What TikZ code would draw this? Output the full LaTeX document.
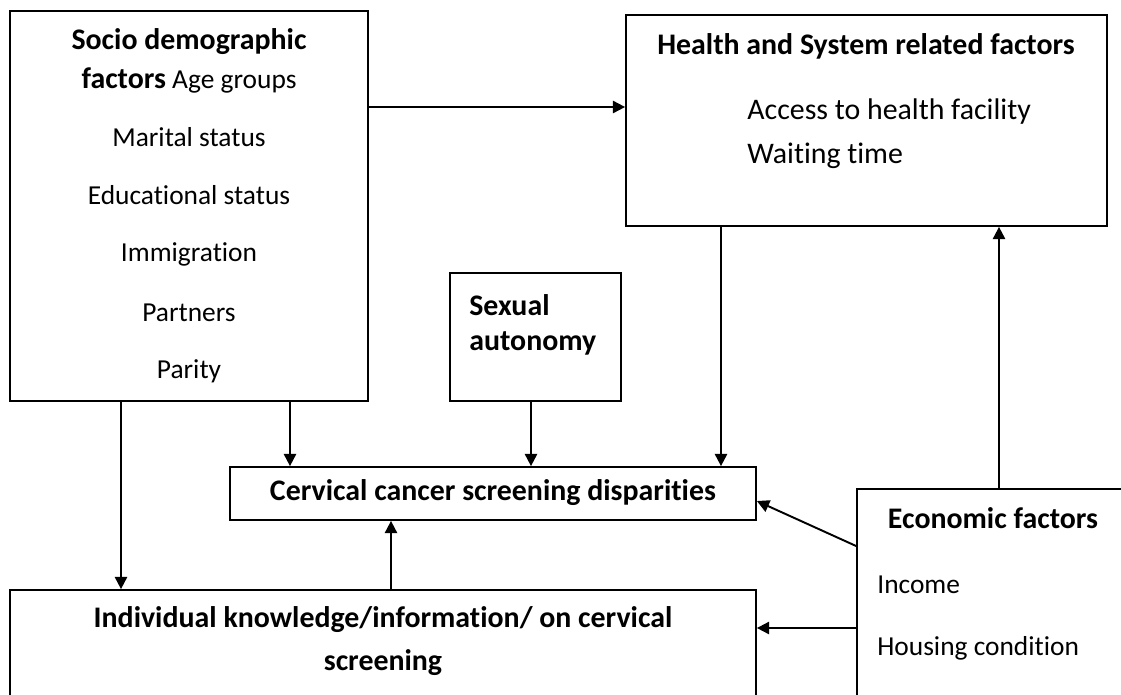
\documentclass[tikz,border=0pt]{standalone}
\usepackage{fontspec}
\setmainfont{Carlito}[Ligatures={NoCommon}]
\usetikzlibrary{arrows.meta}

\begin{document}
\begin{tikzpicture}[
    x=0.02cm,
    y=-0.02cm,
    >={Triangle[length=7pt,width=7pt]},
    box/.style={draw, rectangle, line width=1pt, inner sep=0pt},
    item/.style={font=\fontsize{15.6}{18}\selectfont, inner sep=0pt},
    head/.style={font=\fontsize{17}{20}\selectfont\bfseries, inner sep=0pt},
    arr/.style={->, line width=1.1pt}
]

% ============================================================
% Rahmen
% ============================================================

% 1 Einheit = 1 Pixel
\def\px{0.02cm}

\useasboundingbox (0,0) rectangle (1121,694);
\clip (0,0) rectangle (1121,694);

% ============================================================
% Kaesten
% ============================================================

\node[box, minimum width=358*\px, minimum height=390*\px]
    (socio) at (189,206) {};

\node[box, minimum width=481*\px, minimum height=211*\px]
    (health) at (866.5,120.5) {};

\node[box, minimum width=171*\px, minimum height=128*\px]
    (sexual) at (535.5,337) {};

\node[box, minimum width=526*\px, minimum height=53*\px]
    (cerv) at (493,493.5) {};

% unten abgeschnitten
\node[box, minimum width=746*\px, minimum height=170*\px]
    (indiv) at (383,675) {};

% rechts und unten abgeschnitten
\node[box, minimum width=323*\px, minimum height=271*\px]
    (econ) at (1018.5,624.5) {};

% ============================================================
% Texte
% ============================================================

% Soziodemographie
\node[head] (sociot) at (189,42) {Socio demographic};
\node[item] (age) at (189,80)
    {{\fontsize{17}{20}\selectfont\bfseries factors} Age groups};
\node[item] (marital) at (189,137) {Marital status};
\node[item] (edu) at (189,195) {Educational status};
\node[item] (immi) at (189,254) {Immigration};
\node[item] (partn) at (189,313) {Partners};
\node[item] (parity) at (189,371) {Parity};

% Gesundheitssystem
\node[head] (healtht) at (866,46) {Health and System related factors};
\node[item, anchor=west, font=\fontsize{17}{20}\selectfont]
    (access) at (747,112) {Access to health facility};
\node[item, anchor=west, font=\fontsize{17}{20}\selectfont]
    (waiting) at (747,156) {Waiting time};

% Sexuelle Autonomie
\node[head, anchor=west] (sext1) at (469,305) {Sexual};
\node[head, anchor=west] (sext2) at (469,343) {autonomy};

% Zielgroesse
\node[head] (cervt) at (493,493) {Cervical cancer screening disparities};

% Wissen
\node[head] (indt1) at (383,620)
    {Individual knowledge/information/ on cervical};
\node[head] (indt2) at (383,663) {screening};

% Oekonomie
\node[head] (econt) at (993,518) {Economic factors};
\node[item, anchor=west] (income) at (877,585) {Income};
\node[item, anchor=west] (housing) at (877,648) {Housing condition};

% ============================================================
% Pfeile
% ============================================================

\draw[arr] (socio.east |- 0,107) -- (health.west |- 0,107);
\draw[arr] (socio.south -| 121,0) -- (indiv.north -| 121,0);
\draw[arr] (socio.south -| 290,0) -- (cerv.north -| 290,0);
\draw[arr] (sexual.south -| 531,0) -- (cerv.north -| 531,0);
\draw[arr] (health.south -| 721,0) -- (cerv.north -| 721,0);
\draw[arr] (econ.north -| 999,0) -- (health.south -| 999,0);
\draw[arr] (econ.west |- 0,546) -- (cerv.east |- 0,501);
\draw[arr] (econ.west |- 0,628) -- (indiv.east |- 0,628);
\draw[arr] (indiv.north -| 391,0) -- (cerv.south -| 391,0);

\end{tikzpicture}
\end{document}
